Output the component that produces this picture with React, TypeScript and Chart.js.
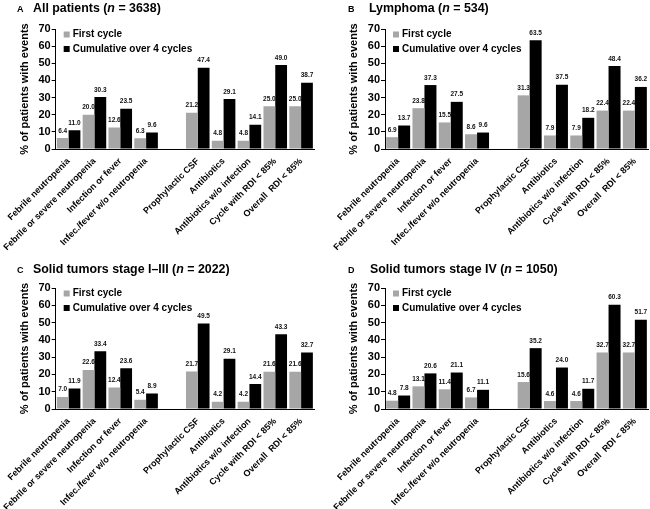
import React, { useEffect, useRef } from "react";
import { Chart, registerables } from "chart.js";

Chart.register(...registerables);

const FONT = "Arial, 'Liberation Sans', Helvetica, sans-serif";
const GRAY = "#a6a6a6";
const BLACK = "#000000";

const categories = [
  "Febrile neutropenia",
  "Febrile or severe neutropenia",
  "Infection or fever",
  "Infec./fever w/o neutropenia",
  "",
  "Prophylactic CSF",
  "Antibiotics",
  "Antibiotics w/o infection",
  "Cycle with RDI < 85%",
  "Overall  RDI < 85%",
];

const seriesLabels = ["First cycle", "Cumulative over 4 cycles"];
const yTicks = [0, 10, 20, 30, 40, 50, 60, 70];
const yTitle = "% of patients with events";

const firstA = [6.4, 20.0, 12.6, 6.3, null, 21.2, 4.8, 4.8, 25.0, 25.0];
const cumA = [11.0, 30.3, 23.5, 9.6, null, 47.4, 29.1, 14.1, 49.0, 38.7];
const firstB = [6.9, 23.8, 15.5, 8.6, null, 31.3, 7.9, 7.9, 22.4, 22.4];
const cumB = [13.7, 37.3, 27.5, 9.6, null, 63.5, 37.5, 18.2, 48.4, 36.2];
const firstC = [7.0, 22.6, 12.4, 5.4, null, 21.7, 4.2, 4.2, 21.6, 21.6];
const cumC = [11.9, 33.4, 23.6, 8.9, null, 49.5, 29.1, 14.4, 43.3, 32.7];
const firstD = [4.8, 13.1, 11.4, 6.7, null, 15.6, 4.6, 4.6, 32.7, 32.7];
const cumD = [7.8, 20.6, 21.1, 11.1, null, 35.2, 24.0, 11.7, 60.3, 51.7];

function drawValues(chart: any, dsIndex: number) {
  const meta = chart.getDatasetMeta(dsIndex);
  const ds = chart.data.datasets[dsIndex];
  const ctx = chart.ctx;
  ctx.save();
  ctx.font = `bold 6.5px ${FONT}`;
  ctx.fillStyle = "#111";
  ctx.textAlign = "center";
  ctx.textBaseline = "alphabetic";
  meta.data.forEach((bar: any, i: number) => {
    const v = ds.data[i];
    if (v == null) return;
    ctx.fillText(Number(v).toFixed(1), bar.x, bar.y - 5.5);
  });
  ctx.restore();
}

const valuePlugin = {
  id: "valueLabels",
  beforeDatasetsDraw(chart: any) {
    drawValues(chart, 0);
  },
  afterDatasetsDraw(chart: any) {
    drawValues(chart, 1);
  },
};

const legendPlugin = {
  id: "insideLegend",
  afterDraw(chart: any) {
    const { left, top } = chart.chartArea;
    const ctx = chart.ctx;
    ctx.save();
    ctx.font = `bold 10px ${FONT}`;
    ctx.textAlign = "left";
    ctx.textBaseline = "middle";
    chart.data.datasets.forEach((ds: any, i: number) => {
      const y = top + 5.5 + i * 14.5;
      ctx.fillStyle = ds.backgroundColor;
      ctx.fillRect(left + 8, y - 3, 6, 6);
      ctx.fillStyle = "#000";
      ctx.fillText(ds.label, left + 17, y);
    });
    ctx.restore();
  },
};

type PanelProps = {
  letter: string;
  title: string;
  n: string;
  first: (number | null)[];
  cum: (number | null)[];
  left: number;
  top: number;
  height: number;
  chartTop: number;
  chartBottom: number;
  chartLeft: number;
  chartRight: number;
  padLeft: number;
  letterX: number;
  titleX: number;
  titleTop: number;
};

function Panel(p: PanelProps) {
  const ref = useRef<HTMLCanvasElement | null>(null);
  useEffect(() => {
    if (!ref.current) return;
    const W = 325;
    const chart = new Chart(ref.current, {
      type: "bar",
      data: {
        labels: categories,
        datasets: [
          { label: seriesLabels[0], data: p.first, backgroundColor: GRAY },
          { label: seriesLabels[1], data: p.cum, backgroundColor: BLACK },
        ],
      },
      options: {
        responsive: false,
        animation: false,
        devicePixelRatio: 1,
        layout: {
          padding: { top: p.chartTop, left: p.padLeft, right: W - p.chartRight, bottom: 0 },
        },
        datasets: { bar: { categoryPercentage: 0.912, barPercentage: 1.0 } },
        plugins: {
          legend: { display: false },
          tooltip: { enabled: false },
          title: { display: false },
        },
        scales: {
          x: {
            grid: { display: false, drawTicks: false },
            border: { display: true, color: "#000", width: 1 },
            ticks: {
              autoSkip: false,
              maxRotation: 45,
              minRotation: 45,
              color: "#000",
              padding: 7,
              font: { family: FONT, size: 9, weight: "bold" },
            },
            afterFit: (s: any) => {
              s.height = p.height - p.chartBottom;
            },
          },
          y: {
            min: 0,
            max: 70,
            afterBuildTicks: (s: any) => {
              s.ticks = yTicks.map((v) => ({ value: v }));
            },
            ticks: {
              color: "#000",
              padding: 1,
              font: { family: FONT, size: 11, weight: "bold" },
            },
            grid: {
              drawOnChartArea: false,
              drawTicks: true,
              tickLength: 4,
              color: "#000",
            },
            border: { display: true, color: "#000", width: 1 },
            title: {
              display: true,
              text: yTitle,
              color: "#000",
              padding: { top: 4, bottom: 0 },
              font: { family: FONT, size: 11, weight: "bold" },
            },
            afterFit: (s: any) => {
              s.width = p.chartLeft - p.padLeft;
            },
          },
        },
      } as any,
      plugins: [valuePlugin, legendPlugin],
    });
    return () => chart.destroy();
  }, []);

  return (
    <div
      style={{
        position: "absolute",
        left: p.left,
        top: p.top,
        width: 325,
        height: p.height,
      }}
    >
      <canvas
        ref={ref}
        width={325}
        height={p.height}
        style={{ display: "block", width: 325, height: p.height }}
      />
      <div
        style={{
          position: "absolute",
          left: p.letterX,
          top: p.titleTop,
          whiteSpace: "pre",
          lineHeight: "14px",
          color: "#000",
          fontFamily: FONT,
          fontWeight: "bold",
        }}
      >
        <span style={{ display: "inline-block", width: p.titleX - p.letterX, fontSize: 9 }}>
          {p.letter}
        </span>
        <span style={{ fontSize: 12.4 }}>
          {p.title} (<i>n</i> = {p.n})
        </span>
      </div>
    </div>
  );
}

export default function App() {
  return (
    <div
      style={{
        position: "fixed",
        left: 0,
        top: 0,
        width: 650,
        height: 509,
        background: "#fff",
        overflow: "hidden",
      }}
    >
      <Panel letter="A" title="All patients" n="3638" first={firstA} cum={cumA}
        left={0} top={0} height={255} chartTop={29} chartBottom={149}
        chartLeft={51} chartRight={314} padLeft={10} letterX={17} titleX={33} titleTop={0} />
      <Panel letter="B" title="Lymphoma" n="534" first={firstB} cum={cumB}
        left={325} top={0} height={255} chartTop={29} chartBottom={149}
        chartLeft={60} chartRight={323} padLeft={18} letterX={23} titleX={44} titleTop={0} />
      <Panel letter="C" title="Solid tumors stage I–III" n="2022" first={firstC} cum={cumC}
        left={0} top={259} height={250} chartTop={29} chartBottom={150}
        chartLeft={51} chartRight={314} padLeft={10} letterX={17} titleX={33} titleTop={2} />
      <Panel letter="D" title="Solid tumors stage IV" n="1050" first={firstD} cum={cumD}
        left={325} top={259} height={250} chartTop={29} chartBottom={150}
        chartLeft={60} chartRight={323} padLeft={18} letterX={23} titleX={45} titleTop={2} />
    </div>
  );
}
